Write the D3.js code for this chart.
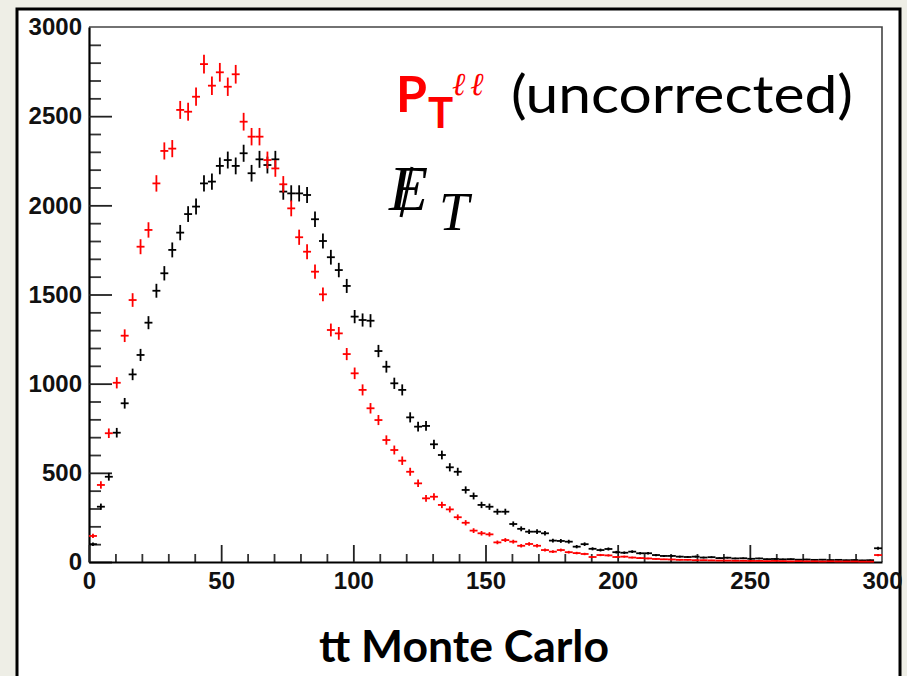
<!DOCTYPE html>
<html><head><meta charset="utf-8">
<script src="https://cdn.jsdelivr.net/npm/d3@7"></script>
<style>html,body{margin:0;padding:0;background:#eeeee6;} svg{display:block;}</style>
</head><body>
<svg id="c" width="907" height="676"></svg>
<script>
// ---- data ----
const binCenters = [1.5,4.5,7.5,10.5,13.5,16.5,19.5,22.5,25.5,28.5,31.5,34.5,37.5,40.5,43.5,46.5,49.5,52.5,55.5,58.5,
61.5,64.5,67.5,70.5,73.5,76.5,79.5,82.5,85.5,88.5,91.5,94.5,97.5,100.5,103.5,106.5,109.5,112.5,115.5,118.5,
121.5,124.5,127.5,130.5,133.5,136.5,139.5,142.5,145.5,148.5,151.5,154.5,157.5,160.5,163.5,166.5,169.5,172.5,175.5,178.5,
181.5,184.5,187.5,190.5,193.5,196.5,199.5,202.5,205.5,208.5,211.5,214.5,217.5,220.5,223.5,226.5,229.5,232.5,235.5,238.5,
241.5,244.5,247.5,250.5,253.5,256.5,259.5,262.5,265.5,268.5,271.5,274.5,277.5,280.5,283.5,286.5,289.5,292.5,295.5,298.5];
const binWidth = 3;
const metValues = [100,310,478,725,890,1052,1161,1342,1521,1619,1750,1847,1951,1993,2123,2133,2221,2254,2221,2292,
2180,2258,2226,2258,2077,2067,2067,2058,1922,1800,1709,1637,1548,1376,1357,1353,1183,1095,1002,965,
811,759,763,660,600,531,506,404,370,320,310,282,282,213,186,170,170,161,120,118,
114,86,100,74,67,73,55,52,58,49,49,39,34,34,30,28,30,25,27,22,
24,20,21,18,20,16,17,15,16,13,14,12,13,11,12,10,11,9,10,77];
const ptllValues = [146,432,722,1005,1269,1469,1768,1862,2123,2305,2318,2535,2525,2609,2792,2671,2746,2665,2735,2469,
2385,2385,2254,2207,2118,1983,1821,1740,1628,1501,1301,1282,1166,1058,965,862,796,684,628,568,
506,441,357,366,320,295,251,220,176,161,155,110,123,114,91,101,91,67,58,67,
55,50,45,28,39,37,28,30,25,22,20,17,15,14,12,12,10,10,9,8,
8,7,7,6,6,5,6,5,4,5,4,4,3,4,3,3,3,2,2,39];
const yMajorTicks = [0,500,1000,1500,2000,2500,3000];
const xMajorTicks = [0,50,100,150,200,250,300];

// ---- layout ----
const svg = d3.select("#c");
const L = 89, R = 882, T = 27, B = 562;
const x = d3.scaleLinear().domain([0,300]).range([L,R]);
const y = d3.scaleLinear().domain([0,3000]).range([B,T]);

svg.append("rect").attr("width",907).attr("height",676).attr("fill","#eeeee6");
svg.append("rect").attr("x",17).attr("y",9).attr("width",883).attr("height",720)
  .attr("fill","#fff").attr("stroke","#000").attr("stroke-width",3);

// frame (top/right)
svg.append("path").attr("d",`M${L},${T}H${R}V${B}`).attr("fill","none").attr("stroke","#444").attr("stroke-width",1.6);

// minor ticks
const yMinor = d3.range(0,3001,100).filter(v=>v%500!==0);
const xMinor = d3.range(0,301,10).filter(v=>v%50!==0);
const yMinAx = svg.append("g").attr("transform",`translate(${L},0)`)
  .call(d3.axisLeft(y).tickValues(yMinor).tickSize(-12).tickFormat(""));
const xMinAx = svg.append("g").attr("transform",`translate(0,${B})`)
  .call(d3.axisBottom(x).tickValues(xMinor).tickSize(-8).tickFormat(""));
[yMinAx,xMinAx].forEach(g=>{g.select(".domain").remove(); g.selectAll("line").attr("stroke","#333").attr("stroke-width",1.8);});

const yAx = svg.append("g").attr("transform",`translate(${L},0)`)
  .call(d3.axisLeft(y).tickValues(yMajorTicks).tickSize(-23).tickSizeOuter(0).tickPadding(7).tickFormat(d3.format("d")));
const xAx = svg.append("g").attr("transform",`translate(0,${B})`)
  .call(d3.axisBottom(x).tickValues(xMajorTicks).tickSize(-17).tickSizeOuter(0).tickPadding(10).tickFormat(d3.format("d")));
[yAx,xAx].forEach(g=>{
  g.select(".domain").attr("stroke","#000").attr("stroke-width",2.2);
  g.selectAll(".tick line").attr("stroke","#222").attr("stroke-width",1.8);
  g.selectAll("text").attr("font-family","Liberation Sans, Arial, sans-serif").attr("font-weight","bold")
   .attr("font-size",24).attr("fill","#111");
});
yAx.selectAll(".tick").filter(d=>d===3000).select("line").remove();
xAx.selectAll(".tick").filter(d=>d===300).select("line").remove();

// data crosses
function drawSeries(vals, color){
  const g = svg.append("g").attr("stroke",color).attr("stroke-width",1.8).attr("fill","none");
  const data = binCenters.map((c,i)=>({c, v: vals[i]}));
  g.selectAll("line.h").data(data).join("line").attr("class","h")
    .attr("x1",d=>x(d.c-binWidth/2)).attr("x2",d=>x(d.c+binWidth/2))
    .attr("y1",d=>y(d.v)).attr("y2",d=>y(d.v));
  g.selectAll("line.v").data(data).join("line").attr("class","v")
    .attr("x1",d=>x(d.c)).attr("x2",d=>x(d.c))
    .attr("y1",d=>y(Math.max(0,d.v-Math.sqrt(d.v)))).attr("y2",d=>y(d.v+Math.sqrt(d.v)));
}
drawSeries(metValues,"#000");
drawSeries(ptllValues,"#ff0000");

// legend texts
const lg = svg.append("g");
lg.append("text").attr("x",396).attr("y",112).attr("font-family","Lato, 'Open Sans', sans-serif")
  .attr("font-weight","bold").attr("font-size",50).attr("fill","#ff0000").text("P");
lg.append("text").attr("x",428).attr("y",128).attr("font-family","Lato, 'Open Sans', sans-serif")
  .attr("font-weight","bold").attr("font-size",42).attr("fill","#ff0000").text("T");
lg.append("text").attr("x",452).attr("y",95).attr("font-family","'DejaVu Serif', serif")
  .attr("font-style","italic").attr("font-size",32).attr("letter-spacing",5).attr("fill","#ff0000").text("ℓℓ");
lg.append("text").attr("x",511).attr("y",113).attr("font-family","Lato, 'Open Sans', sans-serif")
  .attr("font-size",52).attr("fill","#000").attr("textLength",342).attr("lengthAdjust","spacingAndGlyphs").text("(uncorrected)");
lg.append("text").attr("x",389).attr("y",210).attr("font-family","'Liberation Serif', 'Times New Roman', serif")
  .attr("font-style","italic").attr("font-size",64).attr("fill","#000").text("E");
lg.append("line").attr("x1",401).attr("y1",217).attr("x2",412).attr("y2",167).attr("stroke","#000").attr("stroke-width",3);
lg.append("text").attr("x",439).attr("y",230).attr("font-family","'Liberation Serif', 'Times New Roman', serif")
  .attr("font-style","italic").attr("font-size",54).attr("fill","#000").text("T");

// bottom title
svg.append("text").attr("x",464).attr("y",662).attr("text-anchor","middle")
  .attr("font-family","Lato, 'Open Sans', sans-serif").attr("font-weight","bold").attr("font-size",44.5)
  .attr("fill","#000").text("tt Monte Carlo");
</script>
</body></html>
